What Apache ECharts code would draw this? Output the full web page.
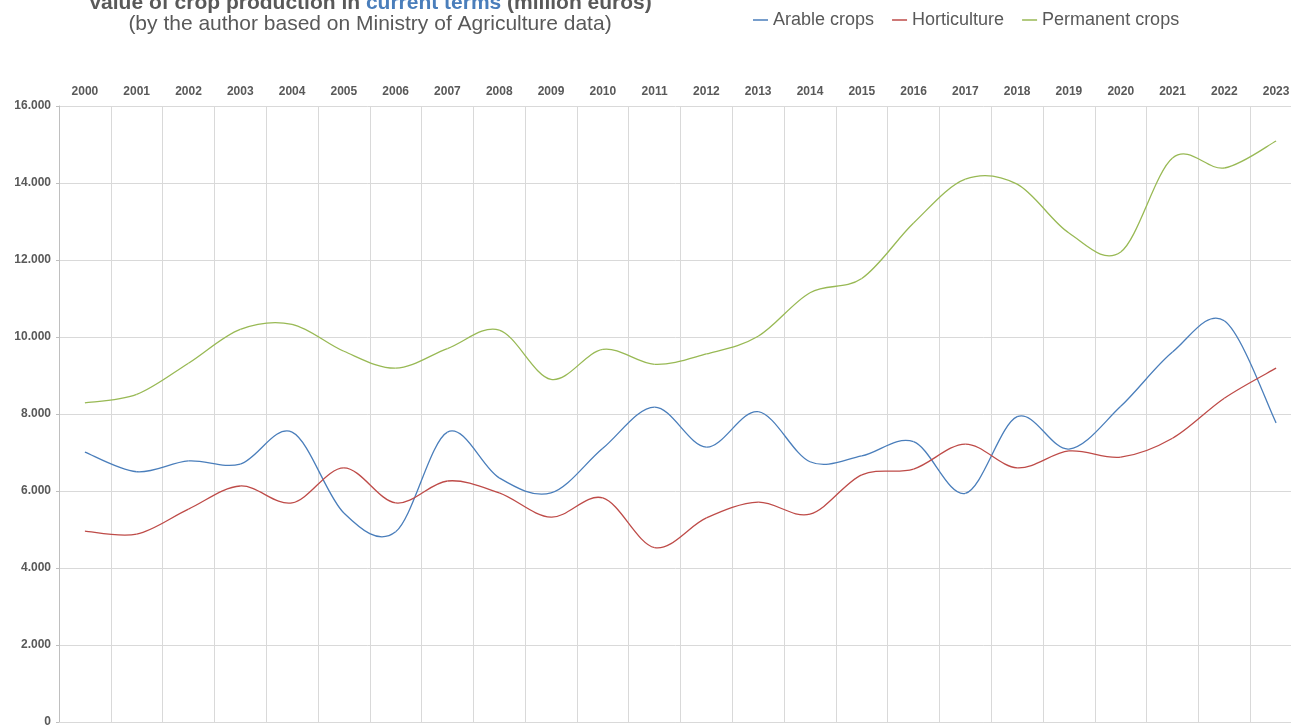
<!DOCTYPE html>
<html>
<head>
<meta charset="utf-8">
<script src="https://cdn.jsdelivr.net/npm/echarts@6/dist/echarts.min.js"></script>
<style>
  html, body { margin: 0; padding: 0; background: #fff; }
  #chart { width: 1291px; height: 726px; }
</style>
</head>
<body>
<div id="chart"></div>
<script>
var years = ['2000', '2001', '2002', '2003', '2004', '2005', '2006', '2007', '2008', '2009', '2010', '2011',
             '2012', '2013', '2014', '2015', '2016', '2017', '2018', '2019', '2020', '2021', '2022', '2023'];

// million euros
var arable = [7010, 6500, 6780, 6700, 7530, 5430, 4940, 7530, 6340, 5950, 7110, 8180,
              7140, 8060, 6760, 6910, 7280, 5940, 7930, 7090, 8200, 9610, 10420, 7770];
var horticulture = [4960, 4880, 5530, 6130, 5690, 6600, 5690, 6260, 5950, 5320, 5820, 4530,
                    5300, 5710, 5400, 6420, 6570, 7220, 6600, 7040, 6880, 7370, 8410, 9190];
var permanent = [8290, 8510, 9320, 10200, 10330, 9630, 9190, 9700, 10180, 8900, 9680, 9290,
                 9560, 10020, 11150, 11520, 12960, 14100, 13970, 12700, 12210, 14650, 14390, 15090];

var seriesNames = ['Arable crops', 'Horticulture', 'Permanent crops'];
var seriesColors = ['#4a7ebb', '#be4b48', '#98b954'];

var myChart = echarts.init(document.getElementById('chart'));

// spreadsheet-style smoothed line (Catmull-Rom), one bezier piece per data point
function makeCurve(i, values) {
    var n = values.length;
    return {
        name: seriesNames[i],
        type: 'custom',
        coordinateSystem: 'cartesian2d',
        data: values.map(function (v, k) { return [k, v]; }),
        encode: { x: 0, y: 1 },
        itemStyle: { color: seriesColors[i] },
        renderItem: function (params, api) {
            var k = params.dataIndex;
            if (k >= n - 1) return;
            var a = Math.max(k - 1, 0), d = Math.min(k + 2, n - 1);
            var p0 = api.coord([a, values[a]]);
            var p1 = api.coord([k, values[k]]);
            var p2 = api.coord([k + 1, values[k + 1]]);
            var p3 = api.coord([d, values[d]]);
            return {
                type: 'bezierCurve',
                shape: {
                    x1: p1[0], y1: p1[1],
                    x2: p2[0], y2: p2[1],
                    cpx1: p1[0] + (p2[0] - p0[0]) / 6,
                    cpy1: p1[1] + (p2[1] - p0[1]) / 6,
                    cpx2: p2[0] - (p3[0] - p1[0]) / 6,
                    cpy2: p2[1] - (p3[1] - p1[1]) / 6
                },
                style: { stroke: seriesColors[i], fill: null, lineWidth: 1.3 }
            };
        }
    };
}

var option = {
    animation: false,
    textStyle: { fontFamily: 'Liberation Sans, Arial, sans-serif' },
    title: {
        left: 365,
        top: -12,
        textAlign: 'center',
        itemGap: 0,
        text: '{b|Value of crop production in }{c|current terms}{b| (million euros)}',
        textStyle: {
            rich: {
                b: { fontSize: 21, lineHeight: 21, fontWeight: 'bold', color: '#595959' },
                c: { fontSize: 21, lineHeight: 21, fontWeight: 'bold', color: '#4a7ebb' }
            }
        },
        subtext: '(by the author based on Ministry of Agriculture data)',
        subtextStyle: { fontSize: 21, lineHeight: 21, color: '#595959' }
    },
    legend: {
        left: 748,
        top: 6,
        itemGap: 18,
        itemWidth: 15,
        itemHeight: 1.5,
        icon: 'rect',
        data: seriesNames,
        textStyle: { fontSize: 18, color: '#595959' }
    },
    grid: { left: 59, right: -11, top: 106, bottom: 4, containLabel: false, outerBoundsMode: 'none' },
    xAxis: {
        type: 'category',
        position: 'top',
        data: years,
        boundaryGap: true,
        axisLine: { show: true, lineStyle: { color: '#d9d9d9' } },
        axisTick: { show: false },
        axisLabel: { interval: 0, margin: 8, fontSize: 12, fontWeight: 'bold', color: '#595959' },
        splitLine: { show: true, interval: 0, lineStyle: { color: '#d9d9d9', width: 1 } }
    },
    yAxis: {
        type: 'value',
        min: 0,
        max: 16000,
        interval: 2000,
        axisLine: { show: true, lineStyle: { color: '#bfbfbf' } },
        axisTick: { show: true, length: 3, lineStyle: { color: '#bfbfbf' } },
        axisLabel: {
            margin: 8,
            fontSize: 12,
            fontWeight: 'bold',
            color: '#595959',
            formatter: function (v) {
                return String(v).replace(/\B(?=(\d{3})+(?!\d))/g, '.');
            }
        },
        splitLine: { show: true, lineStyle: { color: '#d9d9d9', width: 1 } }
    },
    series: [
        makeCurve(0, arable),
        makeCurve(1, horticulture),
        makeCurve(2, permanent)
    ]
};

myChart.setOption(option);
window.addEventListener('resize', function () {
    myChart.resize();
});
</script>
</body>
</html>
